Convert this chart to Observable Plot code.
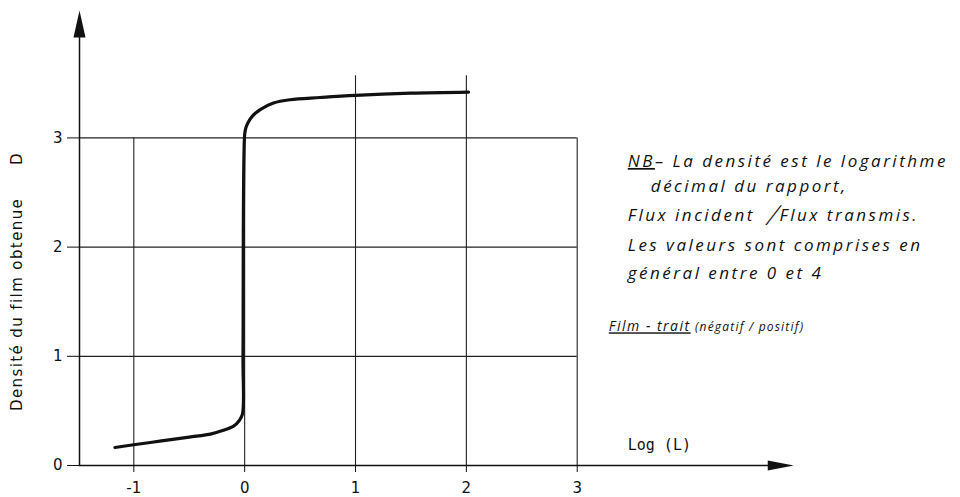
<!DOCTYPE html>
<html>
<head>
<meta charset="utf-8">
<script src="https://cdn.jsdelivr.net/npm/d3@7"></script>
<script src="https://cdn.jsdelivr.net/npm/@observablehq/plot@0.6"></script>
<style>
  html, body { margin: 0; padding: 0; background: #fff; }
  #chart svg { display: block; }
</style>
</head>
<body>
<div id="chart"></div>
<script>
// ---- data ----
const xTicks = [-1, 0, 1, 2, 3];
const yTicks = [0, 1, 2, 3];
const vGridTop = [3, 3, 3.57, 3.57, 3];
const hGrid = [1, 2, 3];
const curveX = [-1.17, -1.0, -0.75, -0.5, -0.3, -0.2, -0.1, -0.05, -0.02, -0.015, 0.0, 0.01, 0.03, 0.07, 0.14, 0.26, 0.41, 0.68, 1.0, 1.5, 2.02];
const curveY = [0.165, 0.19, 0.225, 0.26, 0.29, 0.32, 0.36, 0.41, 0.47, 1.0, 3.03, 3.09, 3.14, 3.2, 3.26, 3.32, 3.35, 3.37, 3.39, 3.41, 3.42];
const yLabel = "Densité du film obtenue\u2003\u2003D";
const xLabel = "Log (L)";
const noteLines = [
  "NB– La densité est le logarithme",
  "décimal du rapport,",
  "Flux incident \u2009╱Flux transmis.",
  "Les valeurs sont comprises en",
  "général entre 0 et 4"
];
const filmNote = "Film - trait (négatif / positif)";

const curve = curveX.map((x, i) => ({x, y: curveY[i]}));

const arrowRight = { draw(ctx) { ctx.moveTo(13, 0); ctx.lineTo(-13, -5); ctx.lineTo(-13, 5); ctx.closePath(); } };
const arrowUp = { draw(ctx) { ctx.moveTo(0, -13.5); ctx.lineTo(-6, 13.5); ctx.lineTo(6, 13.5); ctx.closePath(); } };

const X0 = -1.49;
const noteFont = {fontFamily: "Open Sans", fontStyle: "italic", textAnchor: "start", fill: "#111"};
const fmt = d => d < 0 ? "-" + Math.abs(d) : String(d);

const plot = Plot.plot({
  width: 960,
  height: 497,
  marginLeft: 79,
  marginRight: 161.6,
  marginTop: 6.4,
  marginBottom: 32,
  x: {domain: [X0, 5], axis: null},
  y: {domain: [0, 4.2], axis: null},
  style: {fontFamily: "DejaVu Sans", background: "#fff", color: "#111", overflow: "visible"},
  marks: [
    // grid
    Plot.ruleY(hGrid, {x1: X0, x2: 3, stroke: "#222", strokeWidth: 1.3}),
    Plot.ruleX(xTicks, {y1: 0, y2: (d, i) => vGridTop[i], stroke: "#222", strokeWidth: 1.1}),
    // axes lines
    Plot.ruleY([0], {x1: X0, x2: 4.75, stroke: "#111", strokeWidth: 1.5}),
    Plot.ruleX([X0], {y1: 0, y2: 3.95, stroke: "#111", strokeWidth: 1.5}),
    Plot.dot([0], {x: 4.836, y: 0, symbol: arrowRight, fill: "#111", stroke: null}),
    Plot.dot([0], {x: X0, y: 4.043, symbol: arrowUp, fill: "#111", stroke: null}),
    // ticks
    Plot.axisY({ticks: yTicks, tickSize: 12, tickPadding: 5, fontSize: 15, label: null, tickFormat: fmt}),
    Plot.axisX({ticks: xTicks, tickSize: 7, tickPadding: 10, fontSize: 15, label: null, tickFormat: fmt}),
    // curve
    Plot.line(curve, {x: "x", y: "y", curve: "catmull-rom", stroke: "#111", strokeWidth: 3.2, strokeLinecap: "round"}),
    // axis labels
    Plot.text([yLabel], {text: d => d, frameAnchor: "left", textAnchor: "middle", dx: -62, y: 1.685, rotate: -90, fontSize: 15, fill: "#111"}),
    Plot.text([xLabel], {text: d => d, x: 3.456, y: 0.183, textAnchor: "start", fontFamily: "DejaVu Sans Mono", fontSize: 15, fill: "#111"}),
    // notes
    Plot.text(noteLines, {text: d => d, x: (d, i) => [3.456, 3.664, 3.456, 3.456, 3.456][i], y: (d, i) => [2.784, 2.555, 2.289, 2.015, 1.758][i], ...noteFont, fontSize: 17}),
    Plot.text([filmNote], {text: d => d, x: 3.285, y: 1.264, ...noteFont, fontSize: 12})
  ]
});

document.getElementById("chart").appendChild(plot);

// letter spacing and underlines
const svgNS = "http://www.w3.org/2000/svg";
plot.querySelectorAll("text").forEach(t => {
  const s = t.textContent;
  if (noteLines.includes(s)) t.style.letterSpacing = "2.5px";
  if (s === yLabel) t.style.letterSpacing = "1.4px";
  if (s.startsWith("NB")) {
    t.textContent = "";
    const a = document.createElementNS(svgNS, "tspan");
    a.textContent = "NB";
    a.setAttribute("text-decoration", "underline");
    t.appendChild(a);
    t.appendChild(document.createTextNode(s.slice(2)));
  } else if (s === filmNote) {
    t.textContent = "";
    t.style.letterSpacing = "1.2px";
    const a = document.createElementNS(svgNS, "tspan");
    a.textContent = "Film - trait";
    a.setAttribute("text-decoration", "underline");
    a.setAttribute("font-size", "14");
    a.style.letterSpacing = "1.5px";
    t.appendChild(a);
    t.appendChild(document.createTextNode(s.slice(12)));
  }
});
</script>
</body>
</html>
